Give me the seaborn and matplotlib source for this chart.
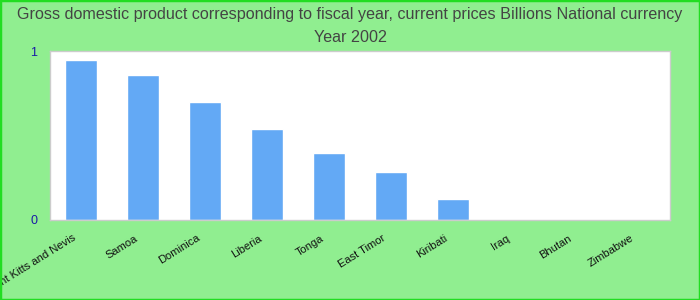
import matplotlib
matplotlib.use("Agg")
import matplotlib.pyplot as plt
import seaborn as sns
import pandas as pd

countries = ["Saint Kitts and Nevis", "Samoa", "Dominica", "Liberia", "Tonga",
             "East Timor", "Kiribati", "Iraq", "Bhutan", "Zimbabwe"]
values = [0.947, 0.858, 0.698, 0.538, 0.396, 0.284, 0.124, 0, 0, 0]
yticks = [0, 1]
title = "Gross domestic product corresponding to fiscal year, current prices Billions National currency\nYear 2002"

sns.set_theme(style="white")
plt.rcParams['font.family'] = ['Liberation Sans', 'DejaVu Sans']

df = pd.DataFrame({"country": countries, "value": values})

fig = plt.figure(figsize=(7, 3), dpi=100, facecolor="#90EE90")
ax = fig.add_axes([50/700, 1 - 220/300, 620/700, 169/300])
sns.barplot(data=df, x="country", y="value", color="#63A9F5", saturation=1,
            width=0.52, ax=ax)
ax.set_ylim(0, 1)
ax.set_xlim(-0.5, len(countries) - 0.5)
ax.set_yticks(yticks)
ax.set_yticklabels([str(t) for t in yticks], color="#1a1aa6", fontsize=9)
ax.set_xticks(range(len(countries)))
ax.set_xticklabels([])
for i, name in enumerate(countries):
    ax.annotate(name, xy=(i, 0), xycoords=("data", "axes fraction"),
                xytext=(-9, -13), textcoords="offset pixels",
                rotation=32, ha="right", va="top", rotation_mode="anchor",
                fontsize=8, color="#111111", annotation_clip=False)
ax.tick_params(axis="both", length=0, pad=6)
ax.tick_params(axis="y", pad=9)
ax.set_xlabel("")
ax.set_ylabel("")
for s in ax.spines.values():
    s.set_color("#cccccc")
    s.set_linewidth(1)
ax.set_facecolor("white")
fig.suptitle(title, y=0.975, fontsize=11.6, color="#444444", linespacing=1.65)

border = plt.Rectangle((0, 0), 1, 1, transform=fig.transFigure, fill=False,
                       edgecolor="#22dd22", linewidth=2.5)
fig.patches.append(border)

fig.savefig("out.png", dpi=100, facecolor=fig.get_facecolor())
